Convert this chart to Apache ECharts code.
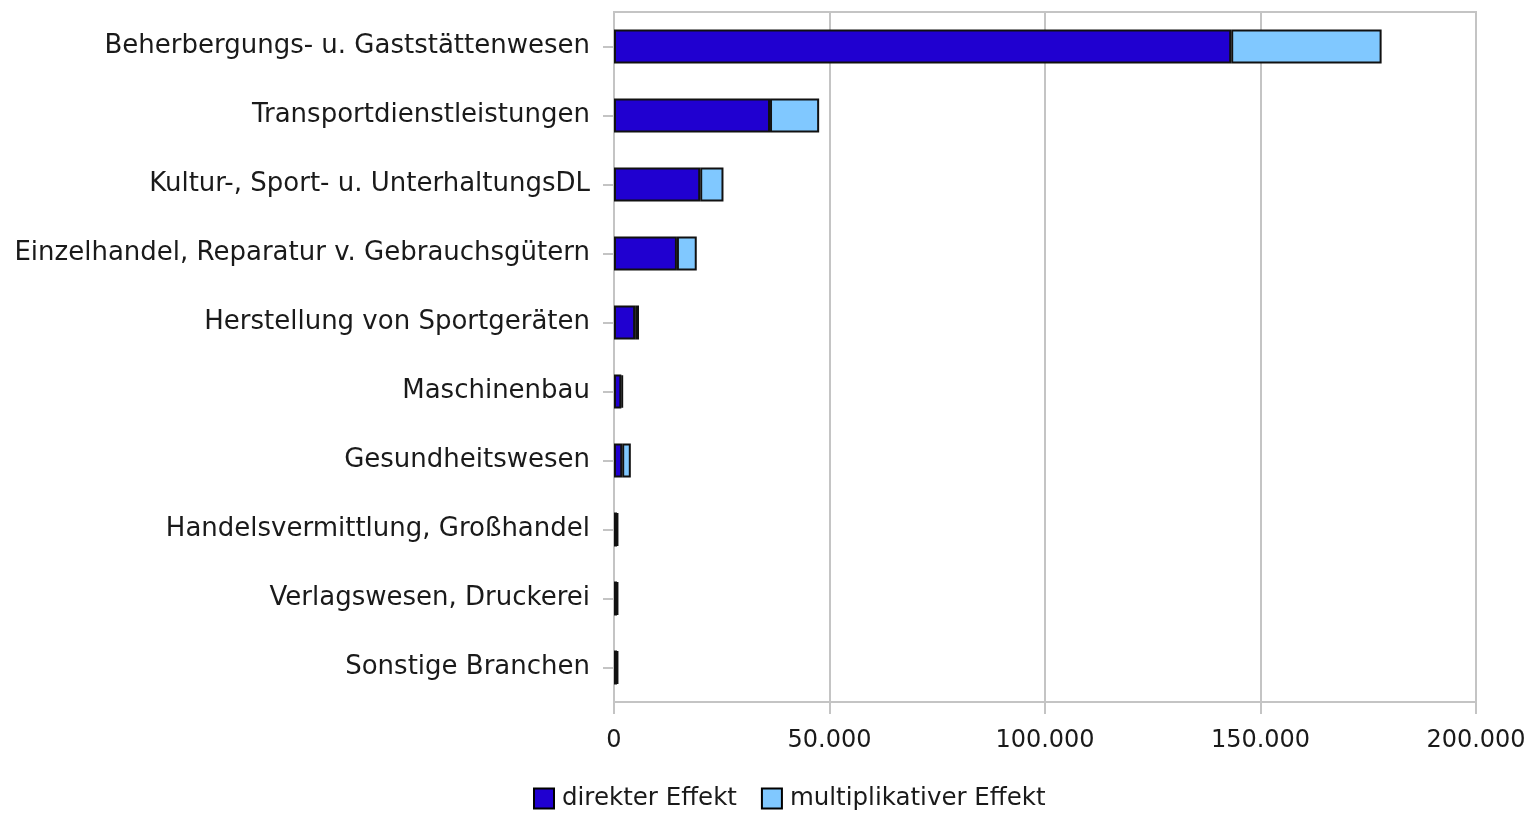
<!DOCTYPE html>
<html>
<head>
<meta charset="utf-8">
<script src="https://cdn.jsdelivr.net/npm/echarts@6/dist/echarts.min.js"></script>
<style>
html,body{margin:0;padding:0;background:#fff;}
#c{width:1538px;height:813px;}
</style>
</head>
<body>
<div id="c"></div>
<script>
const categories = [
  "Beherbergungs- u. Gaststättenwesen",
  "Transportdienstleistungen",
  "Kultur-, Sport- u. UnterhaltungsDL",
  "Einzelhandel, Reparatur v. Gebrauchsgütern",
  "Herstellung von Sportgeräten",
  "Maschinenbau",
  "Gesundheitswesen",
  "Handelsvermittlung, Großhandel",
  "Verlagswesen, Druckerei",
  "Sonstige Branchen"
];
const direkterEffekt = [143200, 36200, 20000, 14600, 4900, 1700, 1900, 700, 700, 700];
const multiplikativerEffekt = [34900, 11400, 5400, 4600, 900, 400, 2000, 200, 200, 200];
const xTicks = [0, 50000, 100000, 150000, 200000];

const fmt = v => v === 0 ? "0" : String(v).replace(/\B(?=(\d{3})+(?!\d))/g, ".");

const chart = echarts.init(document.getElementById('c'), null, {renderer: 'canvas'});
const font = "'DejaVu Sans', 'Liberation Sans', Arial, sans-serif";
chart.setOption({
  animation: false,
  textStyle: {fontFamily: font},
  grid: {
    left: 614, right: 62, top: 12, bottom: 111,
    show: true, borderColor: '#c4c4c4', borderWidth: 2, backgroundColor: 'transparent'
  },
  legend: {
    top: 781, left: 528,
    icon: 'rect',
    itemWidth: 20, itemHeight: 20, itemGap: 24,
    textStyle: {fontSize: 24.5, color: '#1a1a1a', fontFamily: font, padding: [0, 0, 0, 3]},
    data: [
      {name: 'direkter Effekt', itemStyle: {color: '#2000d0', borderColor: '#000', borderWidth: 2}},
      {name: 'multiplikativer Effekt', itemStyle: {color: '#80c8ff', borderColor: '#000', borderWidth: 2}}
    ]
  },
  xAxis: {
    type: 'value', min: xTicks[0], max: xTicks[xTicks.length - 1], interval: 50000,
    axisLine: {show: true, lineStyle: {color: '#c4c4c4', width: 2}},
    axisTick: {show: true, length: 12, lineStyle: {color: '#c4c4c4', width: 2}},
    splitLine: {show: true, lineStyle: {color: '#c4c4c4', width: 2}},
    axisLabel: {formatter: fmt, fontSize: 24, color: '#1a1a1a', margin: 27, fontFamily: font}
  },
  yAxis: {
    type: 'category', data: categories, inverse: true,
    axisLine: {show: true, lineStyle: {color: '#c4c4c4', width: 2}},
    axisTick: {show: true, alignWithLabel: true, length: 11, lineStyle: {color: '#c4c4c4', width: 2}},
    axisLabel: {fontSize: 26, color: '#1a1a1a', margin: 24, fontFamily: font}
  },
  series: [
    {
      name: 'direkter Effekt', type: 'bar', stack: 'total', data: direkterEffekt,
      barWidth: 34,
      itemStyle: {color: '#2000d0', borderColor: '#111', borderWidth: 2}
    },
    {
      name: 'multiplikativer Effekt', type: 'bar', stack: 'total', data: multiplikativerEffekt,
      barWidth: 34,
      itemStyle: {color: '#80c8ff', borderColor: '#111', borderWidth: 2}
    }
  ]
});
</script>
</body>
</html>
